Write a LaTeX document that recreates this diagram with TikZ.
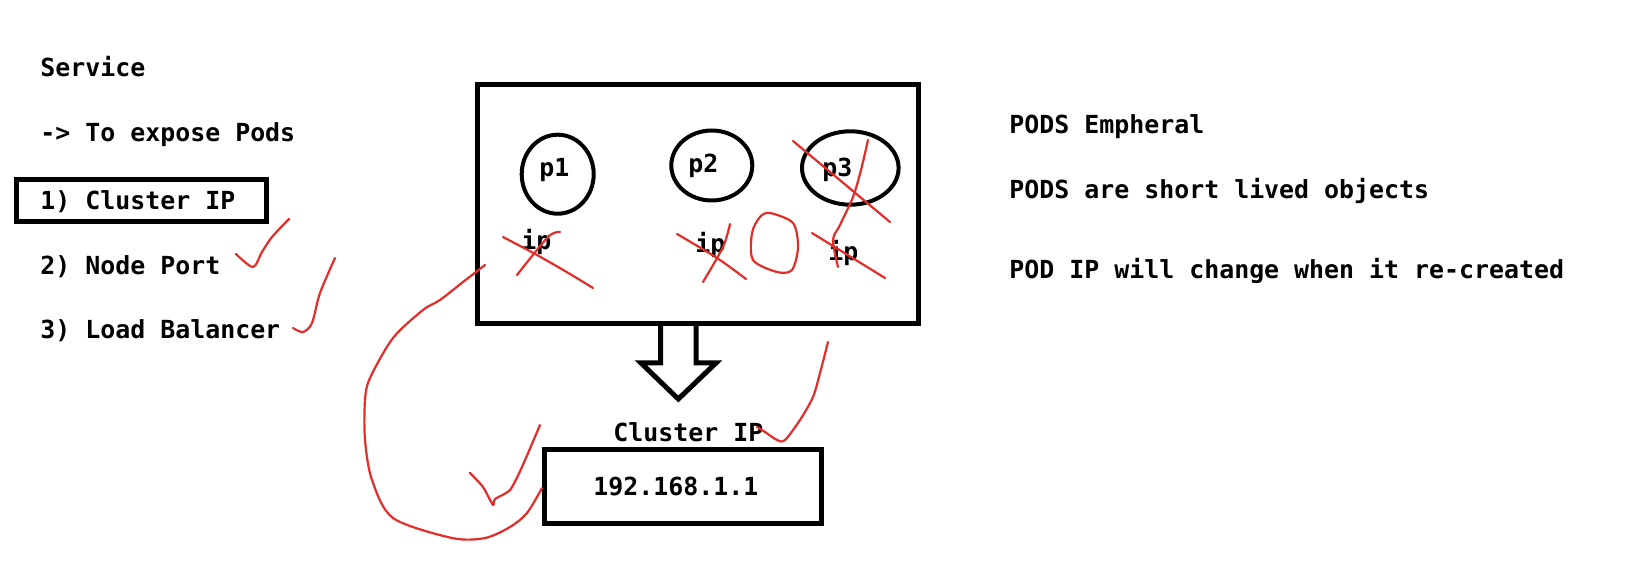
\documentclass[tikz,border=0pt]{standalone}
\usepackage{fontspec}
\setmonofont{DejaVu Sans Mono}
\usetikzlibrary{shapes.geometric}
\definecolor{inkred}{RGB}{226,45,40}
\begin{document}
\begin{tikzpicture}[x=0.5pt,y=-0.5pt,
  txt/.style={anchor=base west,inner sep=0pt,font=\ttfamily\bfseries\fontsize{12.45}{15}\selectfont},
  boxx/.style={draw=black,line width=2.5pt,rectangle,inner sep=0pt},
  pod/.style={draw=black,line width=2pt,ellipse,inner sep=0pt},
  pen/.style={draw=inkred,line width=1.1pt,line cap=round,line join=round}]
\useasboundingbox (0,0) rectangle (1638,582);

% left list
\node[txt] (service) at (40,77) {Service};
\node[txt] (expose) at (40,142) {-> To expose Pods};
\node[boxx,minimum width=125pt,minimum height=20.85pt] (cipbox) at (141.5,200.6) {};
\node[txt] (cip) at (40,210) {1) Cluster IP};
\node[txt] (np) at (40,275) {2) Node Port};
\node[txt] (lb) at (40,339) {3) Load Balancer};

% right notes
\node[txt] (n1) at (1009,134) {PODS Empheral};
\node[txt] (n2) at (1009,199) {PODS are short lived objects};
\node[txt] (n3) at (1009,279) {POD IP will change when it re-created};

% pods box
\node[boxx,minimum width=220.5pt,minimum height=119.25pt] (podsbox) at (698,204.25) {};
\node[pod,minimum width=36pt,minimum height=39.5pt] (p1) at (557.7,174.2) {};
\node[pod,minimum width=40.5pt,minimum height=35pt] (p2) at (711.8,165.5) {};
\node[pod,minimum width=48.3pt,minimum height=36.7pt] (p3) at (850.3,168) {};
\node[txt] (p1t) at (539,177) {p1};
\node[txt] (p2t) at (688,173) {p2};
\node[txt] (p3t) at (822,177) {p3};
\node[txt] (ip1) at (521,250) {ip};
\node[txt] (ip2) at (695,253) {ip};
\node[txt] (ip3) at (828,261) {ip};

% hollow arrow
\draw[line width=2.5pt,line join=miter]
  ([xshift=-18.75pt]podsbox.south) -- (660.5,363) -- (641,363) -- (678.3,399)
  -- (716,363) -- (696,363) -- ([xshift=-1pt]podsbox.south);

% cluster ip box
\node[txt] (ciplabel) at (613,442) {Cluster IP};
\node[boxx,minimum width=138.5pt,minimum height=36.75pt] (ipbox) at (683,486.25) {};
\node[txt] (iptext) at (593,495) {192.168.1.1};

% red pen marks
\draw[pen] plot[smooth] coordinates {(236,254) (253,267) (262,252) (272,237) (289,219)};
\draw[pen] plot[smooth] coordinates {(293,328) (303,332) (312,323) (320,293) (335,258)};
\draw[pen] plot[smooth] coordinates {(503,237) (537,255) (570,274) (593,288)};
\draw[pen] plot[smooth] coordinates {(560,232) (548,237) (517,275)};
\draw[pen] plot[smooth] coordinates {(677,234) (717,258) (746,279)};
\draw[pen] plot[smooth] coordinates {(730,224) (723,247) (703,282)};
\draw[pen] plot[smooth cycle] coordinates {(770,213) (793,223) (798,247) (792,270) (777,272) (753,260) (752,233) (760,217)};
\draw[pen] (793,141) -- (890,222);
\draw[pen] plot[smooth] coordinates {(868,140) (861,170) (853,197) (840,225) (833,240) (838,267)};
\draw[pen] (812,233) -- (885,278);
\draw[pen] plot[smooth] coordinates {(485,265) (463,282) (440,300) (423,310) (393,338) (370,378) (365,400) (365,440) (372,480) (393,518) (452,538) (485,538) (510,527) (527,513) (542,488)};
\draw[pen] plot[smooth,tension=0.4] coordinates {(470,473) (483,487) (493,505) (495,499) (510,490) (522,467) (540,425)};
\draw[pen] plot[smooth] coordinates {(828,342) (826,350) (820,373) (813,397) (800,420) (785,440) (777,440) (765,432) (757,427)};
\end{tikzpicture}
\end{document}
